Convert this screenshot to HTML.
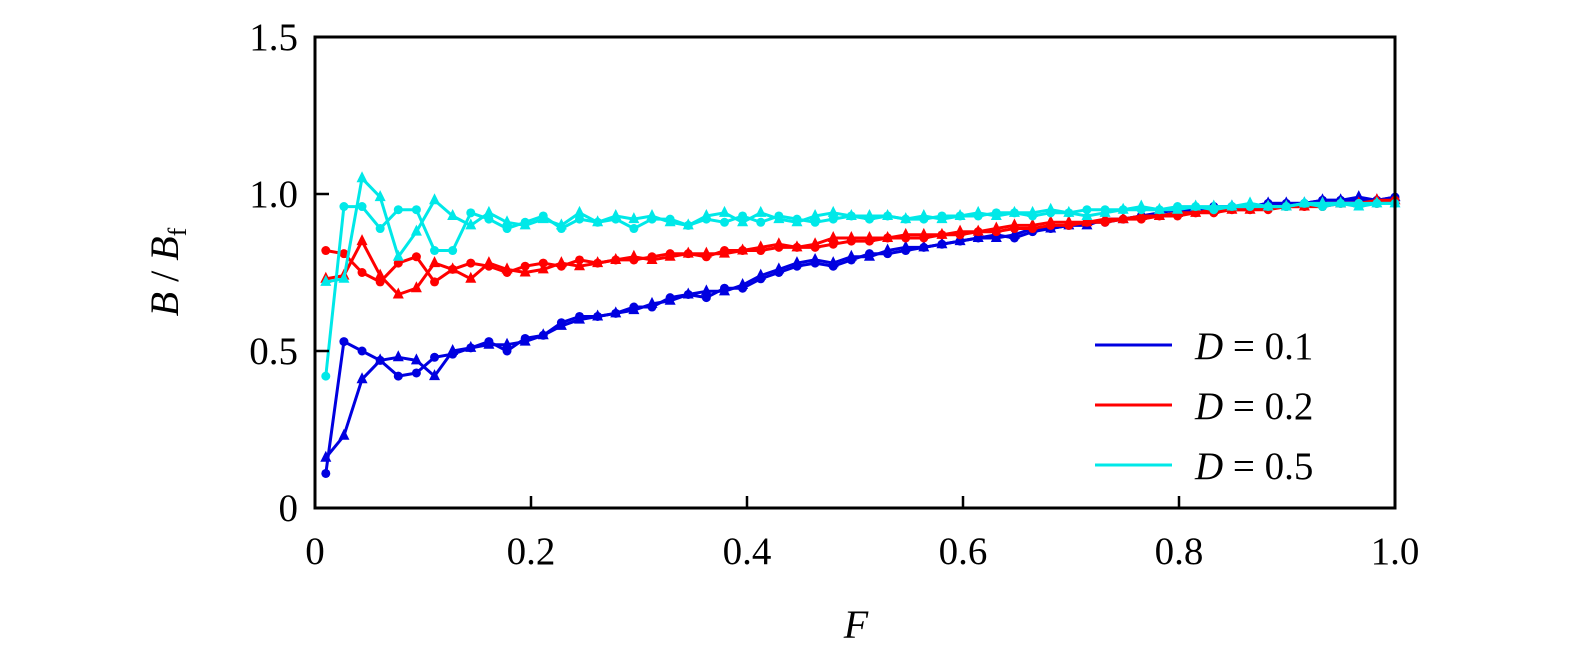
<!DOCTYPE html>
<html><head><meta charset="utf-8"><style>
body{margin:0;background:#fff}
svg text{font-family:"Liberation Serif",serif;fill:#000}
</style></head><body>
<svg id="chart" width="1575" height="659" xmlns="http://www.w3.org/2000/svg">
<g id="plot"></g>
<rect x="315" y="37" width="1080" height="471" fill="none" stroke="#000" stroke-width="3"/>
<g id="axes"></g>
<text x="856" y="638" font-size="40" font-style="italic" text-anchor="middle">F</text>
<text transform="translate(178,272) rotate(-90)" font-size="40" text-anchor="middle"><tspan font-style="italic">B</tspan> / <tspan font-style="italic">B</tspan><tspan font-size="26" dy="8">f</tspan></text>
<g id="legend"></g>
</svg>
<script>
const xTicks=[0,0.2,0.4,0.6,0.8,1.0];
const xTickLabels=["0","0.2","0.4","0.6","0.8","1.0"];
const yTicks=[0,0.5,1.0,1.5];
const yTickLabels=["0","0.5","1.0","1.5"];
const seriesNames=["D = 0.1","D = 0.2","D = 0.5"];
const seriesColors=["#0000e0","#ff0000","#00e8e8"];
const blueCircle=[0.11,0.53,0.50,0.47,0.42,0.43,0.48,0.49,0.51,0.53,0.50,0.54,0.55,0.59,0.61,0.61,0.62,0.64,0.64,0.67,0.68,0.67,0.70,0.70,0.73,0.75,0.77,0.78,0.77,0.79,0.81,0.81,0.82,0.83,0.84,0.85,0.86,0.87,0.86,0.88,0.89,0.90,0.91,0.91,0.92,0.93,0.94,0.95,0.95,0.96,0.96,0.96,0.97,0.97,0.97,0.98,0.98,0.98,0.98,0.99];
const blueTri=[0.16,0.23,0.41,0.47,0.48,0.47,0.42,0.50,0.51,0.52,0.52,0.53,0.55,0.58,0.60,0.61,0.62,0.63,0.65,0.66,0.68,0.69,0.69,0.71,0.74,0.76,0.78,0.79,0.78,0.80,0.80,0.82,0.83,0.83,0.84,0.85,0.86,0.86,0.87,0.89,0.89,0.90,0.90,0.92,0.92,0.93,0.93,0.94,0.95,0.95,0.96,0.96,0.97,0.97,0.97,0.98,0.98,0.99,0.98,0.99];
const redCircle=[0.82,0.81,0.75,0.72,0.78,0.80,0.72,0.76,0.78,0.77,0.75,0.77,0.78,0.77,0.79,0.78,0.79,0.79,0.80,0.81,0.81,0.80,0.82,0.82,0.82,0.83,0.83,0.83,0.84,0.85,0.85,0.86,0.86,0.86,0.87,0.87,0.88,0.88,0.89,0.89,0.90,0.90,0.91,0.91,0.92,0.92,0.93,0.93,0.94,0.94,0.95,0.95,0.95,0.96,0.96,0.96,0.97,0.97,0.97,0.98];
const redTri=[0.73,0.74,0.85,0.74,0.68,0.70,0.78,0.76,0.73,0.78,0.76,0.75,0.76,0.78,0.77,0.78,0.79,0.80,0.79,0.80,0.81,0.81,0.81,0.82,0.83,0.84,0.83,0.84,0.86,0.86,0.86,0.86,0.87,0.87,0.87,0.88,0.88,0.89,0.90,0.90,0.91,0.91,0.91,0.92,0.92,0.93,0.93,0.94,0.94,0.95,0.95,0.95,0.96,0.96,0.96,0.97,0.97,0.97,0.98,0.98];
const cyanCircle=[0.42,0.96,0.96,0.89,0.95,0.95,0.82,0.82,0.94,0.92,0.89,0.91,0.93,0.89,0.92,0.91,0.92,0.89,0.92,0.92,0.90,0.92,0.91,0.93,0.91,0.93,0.92,0.91,0.92,0.93,0.92,0.93,0.92,0.92,0.93,0.93,0.93,0.94,0.94,0.93,0.94,0.94,0.95,0.95,0.95,0.95,0.95,0.96,0.96,0.95,0.96,0.96,0.96,0.96,0.97,0.96,0.97,0.97,0.97,0.97];
const cyanTri=[0.72,0.73,1.05,0.99,0.80,0.88,0.98,0.93,0.90,0.94,0.91,0.90,0.92,0.90,0.94,0.91,0.93,0.92,0.93,0.91,0.90,0.93,0.94,0.91,0.94,0.92,0.91,0.93,0.94,0.93,0.93,0.93,0.92,0.93,0.92,0.93,0.94,0.93,0.94,0.94,0.95,0.94,0.93,0.94,0.95,0.96,0.95,0.95,0.96,0.96,0.96,0.97,0.96,0.96,0.97,0.97,0.97,0.96,0.97,0.97];
const NS="http://www.w3.org/2000/svg";
const X0=315,X1=1395,Y0=508,Y1=37;
function xs(v){return X0+(X1-X0)*v;}
function ys(v){return Y0-(Y0-Y1)*v/1.5;}
function fAt(i,n){return 0.01+i*(0.99/(n-1));}
function mk(tag,attrs,parent){const e=document.createElementNS(NS,tag);for(const k in attrs)e.setAttribute(k,attrs[k]);parent.appendChild(e);return e;}
const plot=document.getElementById('plot');
const axes=document.getElementById('axes');
const legend=document.getElementById('legend');
const sets=[[blueCircle,0,'c'],[blueTri,0,'t'],[redCircle,1,'c'],[redTri,1,'t'],[cyanCircle,2,'c'],[cyanTri,2,'t']];
sets.forEach(([d,ci,m],si)=>{
  const col=seriesColors[ci];
  const pts=d.map((v,i)=>xs(fAt(i,d.length)).toFixed(1)+','+ys(v).toFixed(1)).join(' ');
  const pl=mk('polyline',{points:pts,fill:'none',stroke:col,'stroke-width':3,'stroke-linejoin':'round'},plot);
  
  
  d.forEach((v,i)=>{
    const x=xs(fAt(i,d.length)),y=ys(v);
    let e;
    if(m==='c'){e=mk('circle',{cx:x,cy:y,r:4.5,fill:col},plot);}
    else{e=mk('polygon',{points:`${x},${y-7} ${x-5.5},${y+4} ${x+5.5},${y+4}`,fill:col},plot);}
    
    
  });
});
xTicks.forEach((t,i)=>{
  const x=xs(t);
  const l=mk('line',{x1:x,x2:x,y1:Y0,y2:Y0-12,stroke:'#000','stroke-width':2.5},axes);
  
  
  const tx=mk('text',{x:x,y:564,'font-size':39,'text-anchor':'middle'},axes);
  tx.textContent=xTickLabels[i];
  
  
});
yTicks.forEach((t,i)=>{
  const y=ys(t);
  const l=mk('line',{x1:X0,x2:X0+14,y1:y,y2:y,stroke:'#000','stroke-width':2.5},axes);
  
  
  const tx=mk('text',{x:298,y:y+13,'font-size':39,'text-anchor':'end'},axes);
  tx.textContent=yTickLabels[i];
  
  
});
seriesNames.forEach((n,i)=>{
  const y=345+i*60;
  const l=mk('line',{x1:1095,x2:1172,y1:y,y2:y,stroke:seriesColors[i],'stroke-width':3},legend);
  
  
  const tx=mk('text',{x:1195,y:y+14,'font-size':39},legend);
  tx.innerHTML='<tspan font-style="italic">D</tspan> = '+n.split('= ')[1];
  
  
});
</script>
</body></html>
